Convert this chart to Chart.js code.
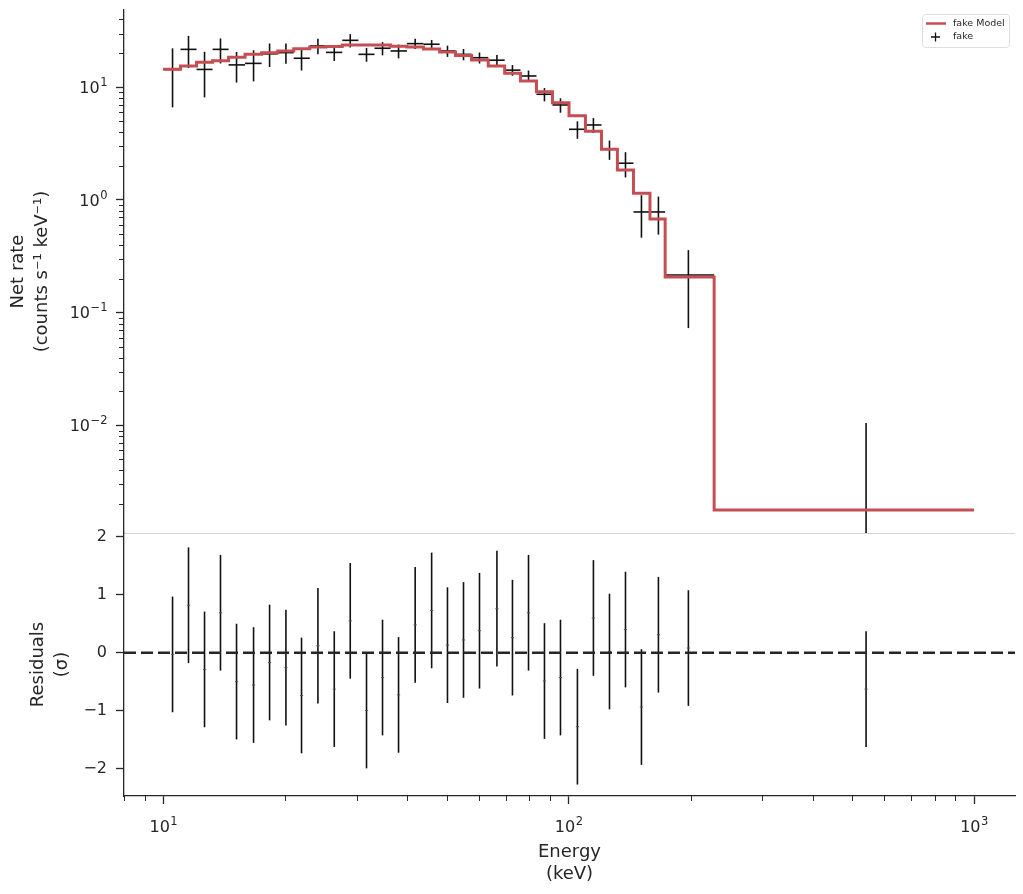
<!DOCTYPE html>
<html lang="en">
<head>
<meta charset="UTF-8">
<title>Spectral fit: fake</title>
<script src="https://cdn.jsdelivr.net/npm/chart.js"></script>
<style>
    body {
        margin: 0;
        background: #ffffff;
    }

    .wrap {
        position: relative;
        width: 1023px;
        height: 894px;
    }

    #rateChart, #residChart {
        position: absolute;
        left: 0;
    }

    #rateChart { top: 0; }
    #residChart { top: 500px; }
</style>
</head>
<body>
<div class="wrap">
    <canvas id="rateChart" width="1023" height="540"></canvas>
    <canvas id="residChart" width="1023" height="394"></canvas>
</div>

<script>
// bin edges of the spectrum (keV), 33 bins
const binEdges = [10.00, 11.03, 12.08, 13.23, 14.49, 15.91, 17.48, 19.16, 20.98, 22.98,
    25.20, 27.64, 30.30, 33.19, 36.36, 39.90, 43.83, 48.05, 52.58, 57.60, 63.33, 69.53,
    76.07, 83.29, 91.22, 100.2, 110.0, 120.5, 131.9, 144.5, 158.7, 173.0, 228.5, 1000];

// where each data point sits (keV)
const binCentres = [10.54, 11.54, 12.64, 13.84, 15.16, 16.70, 18.29, 20.07, 21.93, 24.07,
    26.41, 28.92, 31.72, 34.74, 38.05, 41.82, 45.92, 50.24, 55.03, 60.26, 66.53, 72.67,
    79.61, 87.16, 95.46, 105.1, 115.1, 126.1, 138.1, 151.2, 166.5, 197.4, 541.6];

// folded model, one value per bin
const modelRate = [14.44, 15.45, 16.67, 17.22, 18.46, 19.63, 20.28, 20.99, 22.00, 22.78,
    23.01, 23.73, 23.73, 23.73, 23.11, 22.78, 21.87, 20.57, 19.15, 17.47, 15.45, 13.31,
    11.37, 9.14, 7.30, 5.59, 4.07, 2.82, 1.85, 1.147, 0.678, 0.2074, 0.001775];

// observed net rate and 1 sigma error
const netRate = [14.4, 21.7, 14.4, 21.7, 15.8, 16.3, 19.8, 20.3, 18.1, 23.3,
    20.4, 26.1, 19.6, 22.2, 21.0, 24.4, 24.1, 21.0, 19.6, 18.3, 17.4, 14.2,
    12.6, 8.67, 6.97, 4.24, 4.63, 2.82, 2.12, 0.783, 0.783, 0.216, -0.0131];
const rateErr = [7.77, 6.89, 6.27, 5.44, 4.79, 5.02, 4.67, 4.15, 4.0, 3.66,
    3.3, 3.54, 2.76, 3.0, 2.95, 2.5, 2.2, 2.4, 2.25, 2.05, 1.9, 1.55,
    1.47, 1.17, 1.02, 0.75, 0.70, 0.55, 0.535, 0.32, 0.29, 0.143, 0.0236];

// (data - model) / sigma
const residuals = [-0.03, 0.82, -0.29, 0.69, -0.50, -0.56, -0.17, -0.26, -0.74, 0.12,
    -0.63, 0.55, -1.0, -0.43, -0.73, 0.48, 0.73, 0.13, 0.22, 0.38, 0.76, 0.26,
    0.69, -0.49, -0.43, -1.28, 0.60, 0.02, 0.40, -0.94, 0.31, 0.08, -0.63];
const RESID_ERR = 1;

const rateTicks = [0.01, 0.1, 1, 10];
const rateTickExps = ['−2', '−1', '0', '1'];
const energyTicks = [10, 100, 1000];
const energyTickExps = ['1', '2', '3'];
const residTicks = [-2, -1, 0, 1, 2];
const residTickLabels = ['−2', '−1', '0', '1', '2'];

const E_MIN = 8.0, E_MAX = 1262;
const RATE_MIN = 1.11e-3, RATE_MAX = 48.5;
const RESID_MIN = -2.478, RESID_MAX = 2.069;

const INK = '#262626';
const MODEL_RED = '#c44e52';
const AXIS_W = 124;
const FONT = "'DejaVu Sans', sans-serif";

Chart.defaults.font.family = FONT;
Chart.defaults.color = INK;

function logMinors(lo, hi) {
    const out = [];
    for (let d = Math.floor(Math.log10(lo)); d <= Math.ceil(Math.log10(hi)); d++) {
        for (let m = 2; m <= 9; m++) {
            const v = m * Math.pow(10, d);
            if (v >= lo && v <= hi) out.push(v);
        }
    }
    return out;
}

// y axis: fixed width and no extra room for half labels
function fitLeftAxis(s) {
    s.width = AXIS_W;
    s.paddingTop = 0;
    s.paddingBottom = 0;
}

// vertical (and optional horizontal) error bars, drawn under the model
const errorBarPlugin = {
    id: 'errorBars',
    beforeDatasetsDraw(chart) {
        const ctx = chart.ctx, area = chart.chartArea;
        const xs = chart.scales.x, ys = chart.scales.y;
        ctx.save();
        ctx.beginPath();
        ctx.rect(area.left, area.top, area.width, area.height);
        ctx.clip();
        chart.data.datasets.forEach(ds => {
            if (ds.yErr === undefined) return;
            ctx.strokeStyle = ds.barColor;
            ctx.lineWidth = ds.barWidth;
            ds.data.forEach((p, i) => {
                const err = Array.isArray(ds.yErr) ? ds.yErr[i] : ds.yErr;
                const px = xs.getPixelForValue(p.x);
                const lo = p.y - err, hi = p.y + err;
                const pyLo = (ys.type === 'logarithmic' && lo <= 0) ? area.bottom : ys.getPixelForValue(lo);
                const pyHi = ys.getPixelForValue(hi);
                ctx.beginPath();
                ctx.moveTo(px, pyLo);
                ctx.lineTo(px, pyHi);
                ctx.stroke();
                if (ds.xLow && p.y > 0) {
                    const py = ys.getPixelForValue(p.y);
                    ctx.beginPath();
                    ctx.moveTo(xs.getPixelForValue(ds.xLow[i]), py);
                    ctx.lineTo(xs.getPixelForValue(ds.xHigh[i]), py);
                    ctx.stroke();
                }
            });
        });
        ctx.restore();
    }
};

// short minor ticks outside the axis
const minorTickPlugin = {
    id: 'minorTicks',
    afterDraw(chart, args, opts) {
        if (!opts.values) return;
        const scale = chart.scales[opts.axis];
        const area = chart.chartArea;
        const ctx = chart.ctx;
        ctx.save();
        ctx.strokeStyle = INK;
        ctx.lineWidth = 1;
        opts.values.forEach(v => {
            const p = Math.round(scale.getPixelForValue(v)) + 0.5;
            ctx.beginPath();
            if (scale.isHorizontal()) {
                ctx.moveTo(p, area.bottom);
                ctx.lineTo(p, area.bottom + opts.length);
            } else {
                ctx.moveTo(area.left, p);
                ctx.lineTo(area.left - opts.length, p);
            }
            ctx.stroke();
        });
        ctx.restore();
    }
};

// "10" with a raised exponent, like the mathtext labels of the original
const powerLabelPlugin = {
    id: 'powerLabels',
    afterDraw(chart, args, opts) {
        if (!opts.values) return;
        const scale = chart.scales[opts.axis];
        const area = chart.chartArea;
        const ctx = chart.ctx;
        ctx.save();
        ctx.fillStyle = INK;
        ctx.textBaseline = 'alphabetic';
        ctx.textAlign = 'left';
        opts.values.forEach((v, i) => {
            const p = scale.getPixelForValue(v);
            ctx.font = '16px ' + FONT;
            const wBase = ctx.measureText('10').width;
            ctx.font = '11.5px ' + FONT;
            const wExp = ctx.measureText(opts.exps[i]).width;
            let x0, base;
            if (scale.isHorizontal()) {
                x0 = p - (wBase + wExp) / 2;
                base = area.bottom + opts.offset;
            } else {
                x0 = area.left - opts.offset - wBase - wExp;
                base = p + 5.8;
            }
            ctx.font = '16px ' + FONT;
            ctx.fillText('10', x0, base);
            ctx.font = '11.5px ' + FONT;
            ctx.fillText(opts.exps[i], x0 + wBase + 0.5, base - 7);
        });
        ctx.restore();
    }
};

// legend box and the thin divider under the upper panel
const rateDecorPlugin = {
    id: 'rateDecor',
    afterDraw(chart) {
        const ctx = chart.ctx, area = chart.chartArea;
        ctx.save();
        ctx.strokeStyle = '#d4d4d4';
        ctx.lineWidth = 1;
        ctx.beginPath();
        ctx.moveTo(area.left, area.bottom + 0.5);
        ctx.lineTo(area.right, area.bottom + 0.5);
        ctx.stroke();

        const bx = area.right - 93, by = area.top + 4, bw = 87, bh = 33;
        ctx.fillStyle = 'rgba(255,255,255,0.8)';
        ctx.strokeStyle = '#dedede';
        ctx.beginPath();
        ctx.roundRect(bx + 0.5, by + 0.5, bw, bh, 3);
        ctx.fill();
        ctx.stroke();

        ctx.strokeStyle = MODEL_RED;
        ctx.lineWidth = 2.5;
        ctx.beginPath();
        ctx.moveTo(bx + 4, by + 9.5);
        ctx.lineTo(bx + 24, by + 9.5);
        ctx.stroke();

        ctx.strokeStyle = '#111';
        ctx.lineWidth = 1.3;
        ctx.beginPath();
        ctx.moveTo(bx + 9, by + 23);
        ctx.lineTo(bx + 18, by + 23);
        ctx.moveTo(bx + 13.5, by + 18.5);
        ctx.lineTo(bx + 13.5, by + 27.5);
        ctx.stroke();

        ctx.fillStyle = INK;
        ctx.font = '9.5px ' + FONT;
        ctx.textBaseline = 'middle';
        ctx.fillText('fake Model', bx + 31, by + 9.5);
        ctx.fillText('fake', bx + 31, by + 23);
        ctx.restore();
    }
};

// left edge of every bin carries that bin's model value, plus the closing edge
const modelPoints = binEdges.map((e, i) => ({ x: e, y: modelRate[Math.min(i, modelRate.length - 1)] }));
const ratePoints = binCentres.map((e, i) => ({ x: e, y: netRate[i] }));
const residPoints = binCentres.map((e, i) => ({ x: e, y: residuals[i] }));

new Chart(document.getElementById('rateChart'), {
    type: 'scatter',
    data: {
        datasets: [{
            label: 'fake Model',
            data: modelPoints,
            showLine: true,
            stepped: 'before',
            borderColor: MODEL_RED,
            borderWidth: 3,
            pointRadius: 0
        }, {
            label: 'fake',
            data: ratePoints,
            pointRadius: 0,
            yErr: rateErr,
            xLow: binEdges.slice(0, -1),
            xHigh: binEdges.slice(1),
            barColor: '#111111',
            barWidth: 1.6
        }]
    },
    options: {
        responsive: false,
        animation: false,
        layout: { padding: { top: 10, right: 8, bottom: 7, left: 0 } },
        plugins: {
            legend: { display: false },
            tooltip: { enabled: false },
            minorTicks: { axis: 'y', values: logMinors(RATE_MIN, RATE_MAX), length: 5 },
            powerLabels: { axis: 'y', values: rateTicks, exps: rateTickExps, offset: 17 }
        },
        scales: {
            x: { type: 'logarithmic', min: E_MIN, max: E_MAX, display: false },
            y: {
                type: 'logarithmic',
                min: RATE_MIN,
                max: RATE_MAX,
                afterBuildTicks: s => { s.ticks = rateTicks.map(v => ({ value: v })); },
                afterFit: fitLeftAxis,
                ticks: { display: false },
                grid: { drawOnChartArea: false, tickLength: 8, tickWidth: 1.3, tickColor: INK },
                border: { color: INK, width: 1.3 },
                title: {
                    display: true,
                    text: ['Net rate', '(counts s⁻¹ keV⁻¹)'],
                    font: { size: 18, lineHeight: 1.33 },
                    padding: { top: 6, bottom: 0 }
                }
            }
        }
    },
    plugins: [errorBarPlugin, minorTickPlugin, powerLabelPlugin, rateDecorPlugin]
});

new Chart(document.getElementById('residChart'), {
    type: 'scatter',
    data: {
        datasets: [{
            label: 'zero',
            data: [{ x: E_MIN, y: 0 }, { x: E_MAX, y: 0 }],
            showLine: true,
            borderColor: INK,
            borderWidth: 2.5,
            borderDash: [12, 5],
            pointRadius: 0
        }, {
            label: 'fake',
            data: residPoints,
            pointStyle: 'line',
            pointRadius: 1.6,
            pointBorderWidth: 1,
            pointBorderColor: '#555555',
            yErr: RESID_ERR,
            barColor: '#111111',
            barWidth: 1.6
        }]
    },
    options: {
        responsive: false,
        animation: false,
        layout: { padding: { top: 33, right: 8, bottom: 0, left: 0 } },
        plugins: {
            legend: { display: false },
            tooltip: { enabled: false },
            minorTicks: { axis: 'x', values: logMinors(E_MIN, E_MAX), length: 5 },
            powerLabels: { axis: 'x', values: energyTicks, exps: energyTickExps, offset: 36 }
        },
        scales: {
            x: {
                type: 'logarithmic',
                min: E_MIN,
                max: E_MAX,
                afterBuildTicks: s => { s.ticks = energyTicks.map(v => ({ value: v })); },
                afterFit: s => { s.height = 98; },
                ticks: { display: false },
                grid: { drawOnChartArea: false, tickLength: 8, tickWidth: 1.3, tickColor: INK },
                border: { color: INK, width: 1.3 },
                title: {
                    display: true,
                    text: ['Energy', '(keV)'],
                    font: { size: 18, lineHeight: 1.22 },
                    padding: { top: 0, bottom: 9 }
                }
            },
            y: {
                type: 'linear',
                min: RESID_MIN,
                max: RESID_MAX,
                afterBuildTicks: s => { s.ticks = residTicks.map(v => ({ value: v })); },
                afterFit: fitLeftAxis,
                ticks: {
                    autoSkip: false,
                    padding: 9,
                    font: { size: 16 },
                    callback: (v, i) => residTickLabels[i]
                },
                grid: { drawOnChartArea: false, tickLength: 8, tickWidth: 1.3, tickColor: INK },
                border: { color: INK, width: 1.3 },
                title: {
                    display: true,
                    text: ['Residuals', '(σ)'],
                    font: { size: 18, lineHeight: 1.33 },
                    padding: { top: 26, bottom: 0 }
                }
            }
        }
    },
    plugins: [errorBarPlugin, minorTickPlugin, powerLabelPlugin]
});
</script>
</body>
</html>
